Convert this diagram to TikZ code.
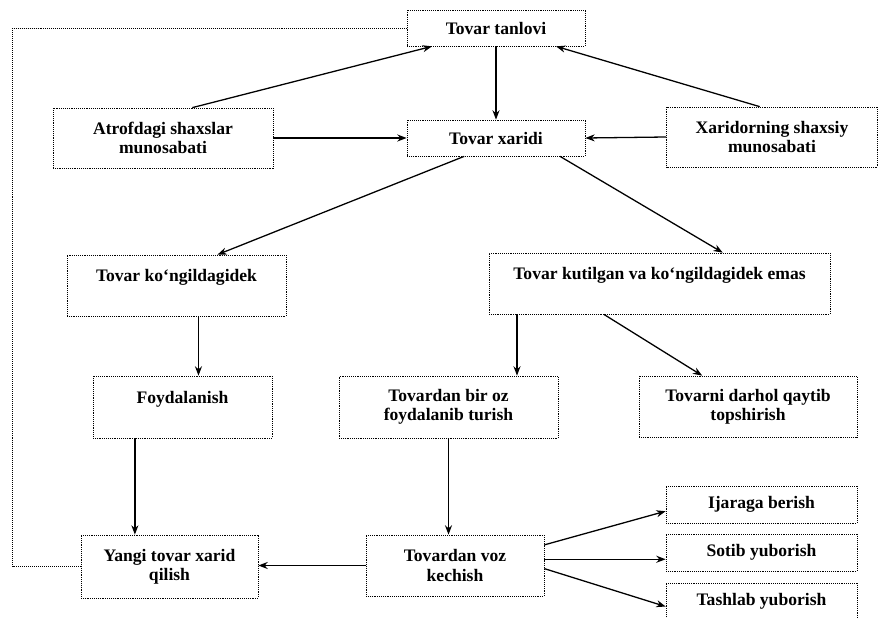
\documentclass[tikz,border=0pt]{standalone}
\usepackage{fontspec}
\setmainfont{Liberation Serif}
\usetikzlibrary{calc,arrows.meta}

\begin{document}
\begin{tikzpicture}[x=0.03cm, y=-0.03cm, font=\fontsize{15}{16.5}\selectfont\bfseries]
    \tikzstyle{block} = [rectangle, draw, densely dotted, line width=0.6pt,
        align=center, inner sep=2pt]
    \tikzstyle{arrow} = [line width=1.1pt, ->, >={Stealth[length=8pt,width=6pt]}]
    \tikzstyle{loopline} = [densely dotted, line width=0.7pt]
    \useasboundingbox [fill=white] (0,0) rectangle (882,618);

    % top part
    \node [block, minimum width=178*0.03cm, minimum height=36*0.03cm] (tanlov) at (496,28) {Tovar tanlovi};
    \node [block, minimum width=178*0.03cm, minimum height=36*0.03cm] (xarid) at (496,138) {Tovar xaridi};
    \node [block, minimum width=220*0.03cm, minimum height=60*0.03cm] (atrof) at (163,138) {Atrofdagi shaxslar\\munosabati};
    \node [block, minimum width=211*0.03cm, minimum height=60*0.03cm] (xaridor) at (772,137) {Xaridorning shaxsiy\\munosabati};

    % second row
    \node [block, minimum width=219*0.03cm, minimum height=61*0.03cm] (kongil) at (176.5,285.5) {Tovar ko`ngildagidek\\~};
    \node [block, minimum width=341*0.03cm, minimum height=61*0.03cm] (emas) at (659.5,283.5) {Tovar kutilgan va ko`ngildagidek emas\\~};

    % third row
    \node [block, minimum width=179*0.03cm, minimum height=62*0.03cm] (foyda) at (182.5,407) {Foydalanish\\~};
    \node [block, minimum width=219*0.03cm, minimum height=62*0.03cm] (biroz) at (448.5,407) {Tovardan bir oz\\foydalanib turish};
    \node [block, minimum width=218*0.03cm, minimum height=61*0.03cm] (qaytib) at (748,406.5) {Tovarni darhol qaytib\\topshirish};

    % bottom row
    \node [block, minimum width=177*0.03cm, minimum height=63*0.03cm] (yangi) at (169.5,566.5) {Yangi tovar xarid\\qilish};
    \node [block, minimum width=178*0.03cm, minimum height=61*0.03cm] (vozkech) at (455,565.5) {Tovardan voz\\kechish};
    \node [block, minimum width=191*0.03cm, minimum height=37*0.03cm] (ijara) at (761.5,504.5) {Ijaraga berish};
    \node [block, minimum width=191*0.03cm, minimum height=37*0.03cm] (sotib) at (761.5,552.5) {Sotib yuborish};
    \node [block, minimum width=191*0.03cm, minimum height=37*0.03cm] (tashlab) at (761.5,601.5) {Tashlab yuborish};

    % arrows
    \draw [arrow] (atrof.46) -- (tanlov.196);
    \draw [arrow] (xaridor.112) -- (tanlov.-17);
    \draw [arrow] (tanlov.south) -- (xarid.north);
    \draw [arrow] (atrof.east) -- (xarid.west);
    \draw [arrow] (xaridor.west) -- (xarid.east);
    \draw [arrow] (xarid.-150) -- (kongil.37);
    \draw [arrow] (xarid.-16.5) -- (emas.26.8);
    \draw [arrow] ($(kongil.south west)!0.6!(kongil.south east)$) coordinate (k1) -- (k1 |- foyda.north);
    \draw [arrow] ($(emas.south west)!0.083!(emas.south east)$) coordinate (e1) -- (e1 |- biroz.north);
    \draw [arrow] (emas.-151.6) -- (qaytib.146.5);
    \draw [arrow] ($(foyda.south west)!0.235!(foyda.south east)$) coordinate (f1) -- (f1 |- yangi.north);
    \draw [arrow] (biroz.south) -- (biroz.south |- vozkech.north);
    \draw [arrow] (vozkech.west) -- (vozkech.west -| yangi.east);
    \draw [arrow] (vozkech.13) -- (ijara.184.5);
    \draw [arrow] (vozkech.4.8) -- (vozkech.4.8 -| sotib.west);
    \draw [arrow] (vozkech.-2.9) -- (tashlab.183.3);
    \draw [loopline] (yangi.west) -- ++(-68,0) |- (tanlov.west);
\end{tikzpicture}
\end{document}
